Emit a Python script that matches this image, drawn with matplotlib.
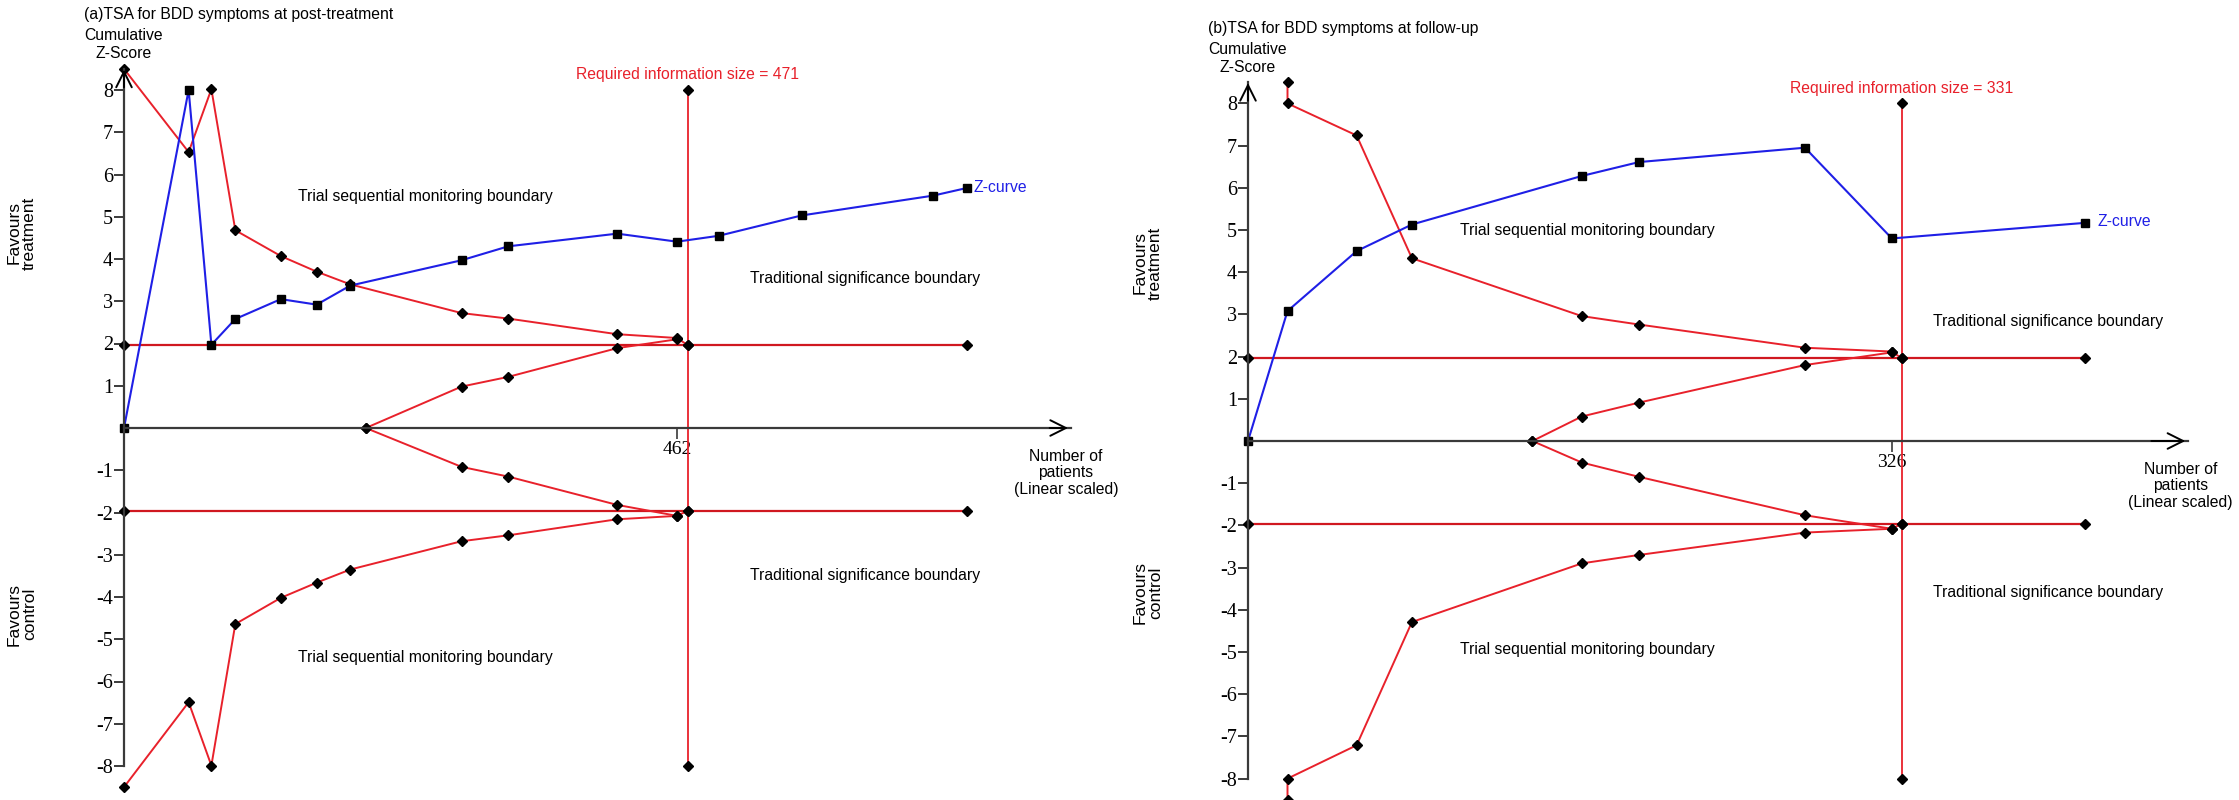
import matplotlib
matplotlib.use("Agg")
import matplotlib.pyplot as plt

# panel (a): post-treatment
a_z_x = [0, 54, 73, 93, 131, 161, 189, 282, 321, 412, 462, 497, 566, 676, 704]
a_z_y = [0, 8.0, 1.97, 2.58, 3.05, 2.92, 3.37, 3.97, 4.30, 4.60, 4.41, 4.55, 5.03, 5.50, 5.68]
a_bnd_x = [0, 54, 73, 93, 131, 161, 189, 282, 321, 412, 462, 471]
a_bnd_up = [8.5, 6.53, 8.02, 4.68, 4.07, 3.70, 3.40, 2.72, 2.59, 2.22, 2.13, 1.96]
a_bnd_lo = [-8.5, -6.49, -7.99, -4.64, -4.02, -3.66, -3.35, -2.68, -2.54, -2.16, -2.08, -1.96]
a_fut_x = [202, 282, 321, 412, 462]
a_fut_up = [0, 0.98, 1.21, 1.89, 2.10]
a_fut_lo = [0, -0.92, -1.15, -1.82, -2.08]
a_ris = 471
a_tick = 462
a_end = 704

# panel (b): follow-up
b_z_x = [0, 20, 55, 83, 169, 198, 282, 326, 424]
b_z_y = [0, 3.08, 4.50, 5.13, 6.28, 6.61, 6.95, 4.80, 5.17]
b_bnd_x = [20, 20, 55, 83, 169, 198, 282, 326, 331]
b_bnd_up = [8.5, 8.0, 7.24, 4.33, 2.96, 2.76, 2.21, 2.12, 1.96]
b_bnd_lo = [-8.5, -8.0, -7.21, -4.29, -2.90, -2.70, -2.17, -2.08, -1.96]
b_fut_x = [144, 169, 198, 282, 326]
b_fut_up = [0, 0.58, 0.91, 1.80, 2.10]
b_fut_lo = [0, -0.51, -0.85, -1.76, -2.08]
b_ris = 331
b_tick = 326
b_end = 424

trad = 1.96
yticks = [-8, -7, -6, -5, -4, -3, -2, -1, 1, 2, 3, 4, 5, 6, 7, 8]

RED = "#e8212b"
BLUE = "#1f1fe6"
AXC = "#3a3a3a"
FS = 11.3
SANS = ["Liberation Sans", "DejaVu Sans"]
SERIF = ["Liberation Serif", "DejaVu Serif"]

W, H = 2239, 800
fig = plt.figure(figsize=(W / 100, H / 100), dpi=100)


def make_ax(left, right, x0px, pxper, y0px, pyper):
    ax = fig.add_axes([left / W, 0, (right - left) / W, 1])
    ax.set_xlim((left - x0px) / pxper, (right - x0px) / pxper)
    ax.set_ylim((y0px - H) / pyper, y0px / pyper)
    return ax


def panel(ax, zx, zy, bx, bup, blo, fx, fup, flo, ris, tick, end, xarrow,
          tsm_x, tsm_y, tsb_x, tsb_y):
    for s in ["top", "right"]:
        ax.spines[s].set_visible(False)
    ax.spines["left"].set_position(("data", 0))
    ax.spines["bottom"].set_position(("data", 0))
    ax.spines["left"].set_bounds(-8, 8.5)
    ax.spines["bottom"].set_bounds(0, xarrow)
    for s in ["left", "bottom"]:
        ax.spines[s].set_color(AXC)
        ax.spines[s].set_linewidth(1.6)
    ax.set_yticks(yticks)
    ax.set_yticklabels([str(v) for v in yticks], family=SERIF, fontsize=14.5)
    ax.set_xticks([tick])
    ax.set_xticklabels([str(tick)], family=SERIF, fontsize=14)
    ax.tick_params(axis="y", direction="out", length=7, width=1.4, color=AXC, pad=1)
    ax.tick_params(axis="x", direction="out", length=8, width=1.2, color=AXC, pad=1)
    # arrow heads
    ax.annotate("", xy=(0, 8.55), xytext=(0, 8.0),
                arrowprops=dict(arrowstyle="->", lw=1.4, color="black", mutation_scale=28))
    ax.annotate("", xy=(xarrow, 0), xytext=(xarrow - 20, 0),
                arrowprops=dict(arrowstyle="->", lw=1.4, color="black", mutation_scale=28))

    dkw = dict(marker="D", ms=5.5, mfc="black", mec="black", clip_on=False)
    # traditional boundaries
    for yy in (trad, -trad):
        ax.plot([0, ris, end], [yy, yy, yy], color="#d01820", lw=1.6, **dkw)
    # required information size
    ax.plot([ris, ris], [-8, 8], color=RED, lw=1.3, **dkw)
    # monitoring and futility boundaries
    ax.plot(bx, bup, color=RED, lw=1.4, **dkw)
    ax.plot(bx, blo, color=RED, lw=1.4, **dkw)
    ax.plot(fx, fup, color=RED, lw=1.4, **dkw)
    ax.plot(fx, flo, color=RED, lw=1.4, **dkw)
    # z-curve
    ax.plot(zx, zy, color=BLUE, lw=1.5, marker="s", ms=6, mfc="black", mec="black",
            clip_on=False)

    ax.text(ris, 8.36, f"Required information size = {ris}", color=RED, ha="center",
            va="center", fontsize=FS, family=SANS)
    ax.text(zx[-1] + 6, zy[-1] + 0.02, "Z-curve", color=BLUE, ha="left", va="center",
            fontsize=FS, family=SANS)
    ax.text(tsm_x, tsm_y, "Trial sequential monitoring boundary", ha="center", va="center",
            fontsize=FS, family=SANS)
    ax.text(tsm_x, -tsm_y + 0.05, "Trial sequential monitoring boundary", ha="center",
            va="center", fontsize=FS, family=SANS)
    ax.text(tsb_x, tsb_y[0], "Traditional significance boundary", ha="center", va="center",
            fontsize=FS, family=SANS)
    ax.text(tsb_x, tsb_y[1], "Traditional significance boundary", ha="center", va="center",
            fontsize=FS, family=SANS)
    ax.text(xarrow - 4, -0.5, "Number of\npatients\n(Linear scaled)", ha="center", va="top",
            fontsize=FS, family=SANS, linespacing=1.1)


# panel (a)
axa = make_ax(0, 1119, 124, 1.197, 428, 42.25)
panel(axa, a_z_x, a_z_y, a_bnd_x, a_bnd_up, a_bnd_lo, a_fut_x, a_fut_up, a_fut_lo,
      a_ris, a_tick, a_end, 791, 252, 5.49, 619, (3.53, -3.50))

# panel (b)
axb = make_ax(1119, 2239, 1248, 1.975, 441, 42.2)
panel(axb, b_z_x, b_z_y, b_bnd_x, b_bnd_up, b_bnd_lo, b_fut_x, b_fut_up, b_fut_lo,
      b_ris, b_tick, b_end, 476, 172, 4.98, 405, (2.82, -3.58))


# titles and side labels (figure pixel positions)
def ftxt(x, y, s, size=FS, **kw):
    fig.text(x / W, 1 - y / H, s, fontsize=size, family=SANS, **kw)


ftxt(84, 15, "(a)TSA for BDD symptoms at post-treatment", va="center")
ftxt(84, 36, "Cumulative", va="center")
ftxt(96, 54, "Z-Score", va="center")
ftxt(1208, 29, "(b)TSA for BDD symptoms at follow-up", va="center")
ftxt(1208, 50, "Cumulative", va="center")
ftxt(1220, 68, "Z-Score", va="center")

for x, yt, yc in [(22, 233, 614), (1148, 263, 593)]:
    ftxt(x, yt, "Favours\ntreatment", size=12.5, rotation=90, ha="center", va="center",
         linespacing=1.0)
    ftxt(x, yc, "Favours\ncontrol", size=12.5, rotation=90, ha="center", va="center",
         linespacing=1.0)

fig.savefig("out.png", dpi=100)
